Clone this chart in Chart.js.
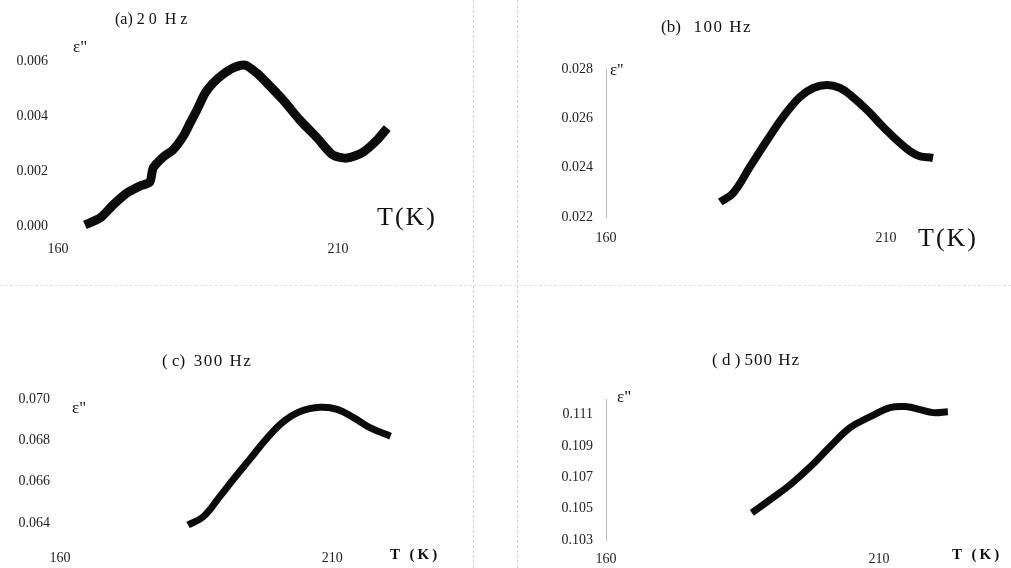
<!DOCTYPE html>
<html>
<head>
<meta charset="utf-8">
<script src="https://cdn.jsdelivr.net/npm/chart.js@4/dist/chart.umd.min.js"></script>
<style>
  body { margin: 0; background: #fff; }
  #fig { position: relative; width: 1011px; height: 568px; overflow: hidden; background: #fff; }
  canvas { position: absolute; }
  .txt { position: absolute; font-family: "Liberation Serif", "DejaVu Serif", serif; color: #111; white-space: nowrap; line-height: 1; }
  .vline { position: absolute; border-left: 1px dashed #d4d4d4; }
  .hline { position: absolute; border-top: 1px dashed #e2e2e2; }
</style>
</head>
<body>
<div id="fig">
  <div class="vline" style="left:473px; top:0; height:568px;"></div>
  <div class="vline" style="left:517px; top:0; height:568px;"></div>
  <div class="hline" style="left:0; top:285px; width:1011px;"></div>

  <canvas id="cA" width="470" height="270" style="left:0; top:0;"></canvas>
  <canvas id="cB" width="511" height="290" style="left:500px; top:0;"></canvas>
  <canvas id="cC" width="490" height="288" style="left:0; top:280px;"></canvas>
  <canvas id="cD" width="511" height="288" style="left:500px; top:280px;"></canvas>

  <div class="txt" style="left:115px; top:11px; font-size:16px;">(a) <span style="letter-spacing:4px">20</span> <span style="letter-spacing:4px">Hz</span></div>
  <div class="txt" style="left:661px; top:18px; font-size:17px;">(b)&nbsp;&nbsp; <span style="letter-spacing:1.5px">100 Hz</span></div>
  <div class="txt" style="left:162px; top:352px; font-size:17px;">( c)&nbsp; <span style="letter-spacing:1.5px">300 Hz</span></div>
  <div class="txt" style="left:712px; top:351px; font-size:17px;">( d ) <span style="letter-spacing:1px">500 Hz</span></div>

  <div class="txt" style="left:73px; top:38px; font-size:17px;">ε"</div>
  <div class="txt" style="left:610px; top:61px; font-size:17px;">ε''</div>
  <div class="txt" style="left:72px; top:399px; font-size:17px;">ε"</div>
  <div class="txt" style="left:617px; top:388px; font-size:17px;">ε"</div>

  <div class="txt" style="left:377px; top:204px; font-size:26px; letter-spacing:2px;">T(K)</div>
  <div class="txt" style="left:918px; top:225px; font-size:26px; letter-spacing:2px;">T(K)</div>
  <div class="txt" style="left:390px; top:547px; font-size:15px; font-weight:bold; letter-spacing:3px;">T (K)</div>
  <div class="txt" style="left:952px; top:547px; font-size:15px; font-weight:bold; letter-spacing:3px;">T (K)</div>
</div>

<script>
// temperature (K) and loss factor values
const tempA = [164.8, 167.5, 169.8, 172.3, 174.6, 176.4, 177.0, 178.8, 180.5, 182.3, 183.6, 184.8, 186.3, 187.7, 189.3, 191.3, 193.4, 195.5, 197.3, 200.2, 203.2, 206.3, 209.1, 211.6, 214.5, 217.0, 218.8];
const epsA = [0.00004, 0.00029, 0.00076, 0.0012, 0.00145, 0.0016, 0.00211, 0.00251, 0.00276, 0.00324, 0.00375, 0.00422, 0.00484, 0.0052, 0.00549, 0.00575, 0.00585, 0.00556, 0.0052, 0.00458, 0.00385, 0.0032, 0.00258, 0.00247, 0.00269, 0.00313, 0.00356];

const tempB = [180.4, 182.7, 185.7, 188.8, 191.6, 194.6, 197.0, 199.5, 201.8, 203.6, 206.6, 209.5, 212.5, 215.5, 218.4];
const epsB = [0.02261, 0.02297, 0.02403, 0.02512, 0.02605, 0.02686, 0.02723, 0.02735, 0.02723, 0.02695, 0.02634, 0.02565, 0.025, 0.02451, 0.02439];

const tempC = [183.5, 186.3, 189.4, 191.8, 194.9, 198.0, 201.0, 204.1, 207.8, 210.9, 213.9, 217.0, 220.7];
const epsC = [0.0639, 0.0643, 0.0653, 0.0661, 0.0671, 0.0681, 0.0689, 0.0694, 0.0696, 0.0695, 0.0691, 0.0686, 0.0682];

const tempD = [186.7, 190.0, 193.7, 197.4, 201.0, 204.7, 208.4, 212.0, 215.1, 217.5, 219.9, 222.6];
const epsD = [0.10473, 0.10556, 0.10652, 0.10767, 0.10895, 0.11017, 0.11087, 0.11145, 0.11151, 0.11132, 0.11113, 0.11119];

const xTicks = [160, 210];
const yTicksA = [0, 0.002, 0.004, 0.006];
const yTicksB = [0.022, 0.024, 0.026, 0.028];
const yTicksC = [0.064, 0.066, 0.068, 0.070];
const yTicksD = [0.103, 0.105, 0.107, 0.109, 0.111];

const tickFont = { family: '"Liberation Serif", "DejaVu Serif", serif', size: 14 };

// one panel: g holds the plot box inside its canvas
function panel(id, temps, eps, yTicks, g) {
  const pts = temps.map((t, i) => ({ x: t, y: eps[i] }));
  return new Chart(document.getElementById(id), {
    type: 'line',
    data: {
      datasets: [{
        data: pts,
        borderColor: '#0b0b0b',
        borderWidth: g.lw,
        pointRadius: 0,
        tension: g.tension,
        borderCapStyle: 'butt',
        borderJoinStyle: 'round',
        clip: false
      }]
    },
    options: {
      responsive: false,
      animation: false,
      devicePixelRatio: 1,
      layout: { padding: { left: 0, top: g.top, right: g.right, bottom: 0 } },
      plugins: { legend: { display: false }, tooltip: { enabled: false } },
      scales: {
        x: {
          type: 'linear',
          min: 160,
          max: 225,
          grid: { display: false, drawTicks: false },
          border: { display: false },
          ticks: { color: '#222', font: tickFont, padding: g.xpad, maxRotation: 0 },
          afterBuildTicks: s => { s.ticks = xTicks.map(v => ({ value: v })); },
          afterFit: s => { s.height = g.xh; }
        },
        y: {
          min: g.ymin,
          max: g.ymax,
          grid: { display: false, drawTicks: false },
          border: { display: g.yline, color: '#bbb', dash: [6, 4] },
          ticks: { color: '#222', font: tickFont, padding: g.ypad, callback: v => v.toFixed(3) },
          afterBuildTicks: s => { s.ticks = yTicks.map(v => ({ value: v })); },
          afterFit: s => { s.width = g.yw; }
        }
      }
    }
  });
}

panel('cA', tempA, epsA, yTicksA, { top: 61, right: 48, xh: 44, yw: 58, ymin: 0, ymax: 0.006, xpad: 15, ypad: 10, lw: 9, tension: 0.25, yline: false });
panel('cB', tempB, epsB, yTicksB, { top: 69, right: 41, xh: 73, yw: 106, ymin: 0.022, ymax: 0.028, xpad: 13, ypad: 13, lw: 8, tension: 0.4, yline: true });
panel('cC', tempC, epsC, yTicksC, { top: 119, right: 76, xh: 31, yw: 60, ymin: 0.06332, ymax: 0.070, xpad: 13, ypad: 10, lw: 7, tension: 0.4, yline: false });
panel('cD', tempD, epsD, yTicksD, { top: 119, right: 50, xh: 28, yw: 106, ymin: 0.103, ymax: 0.112, xpad: 11, ypad: 13, lw: 7, tension: 0.4, yline: true });
</script>
</body>
</html>
